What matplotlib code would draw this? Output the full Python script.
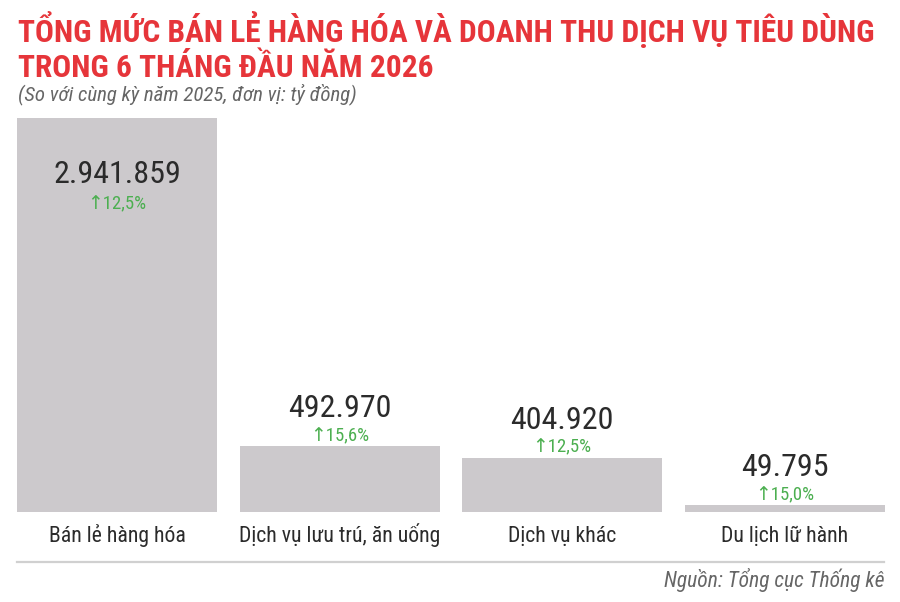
import matplotlib

matplotlib.use("Agg")
import matplotlib.pyplot as plt
from matplotlib import font_manager

# ---------- data ----------
categories = ["Bán lẻ hàng hóa", "Dịch vụ lưu trú, ăn uống", "Dịch vụ khác", "Du lịch lữ hành"]
values = [2941859, 492970, 404920, 49795]
value_labels = ["2.941.859", "492.970", "404.920", "49.795"]
growth_labels = ["12,5%", "15,6%", "12,5%", "15,0%"]

title_lines = ["TỔNG MỨC BÁN LẺ HÀNG HÓA VÀ DOANH THU DỊCH VỤ TIÊU DÙNG",
               "TRONG 6 THÁNG ĐẦU NĂM 2026"]
subtitle = "(So với cùng kỳ năm 2025, đơn vị: tỷ đồng)"
source = "Nguồn: Tổng cục Thống kê"

# ---------- style ----------
names = {f.name for f in font_manager.fontManager.ttflist}
base = "Roboto Condensed" if "Roboto Condensed" in names else "Roboto"
FAM = [base, "DejaVu Sans"]
plt.rcParams["font.family"] = FAM

RED = "#e6353a"
BAR = "#ccc9cc"
DARK = "#2b2b2b"
GREEN = "#4caf50"
GREY = "#666666"

W, H = 900, 602
fig = plt.figure(figsize=(W / 100, H / 100), dpi=100)
fig.patch.set_facecolor("white")


def fx(px):
    return px / W


def fy(py):
    return 1 - py / H


# bars axes: bottom at y=512 px, top (max value) at y=118 px
step = 222.5
left_px = 117 - step / 2
ax = fig.add_axes([fx(left_px), fy(512), fx(4 * step), (512 - 118) / H])
xs = list(range(len(values)))
ax.bar(xs, values, width=200 / step, color=BAR, edgecolor="none")
ax.set_xlim(-0.5, len(values) - 0.5)
ax.set_ylim(0, max(values))
ax.axis("off")

pt = 72 / 100  # px -> points
for i, v in enumerate(values):
    if v > 0.5 * max(values):
        dy_val, dy_pct = -65, -91
    else:
        dy_val, dy_pct = 29, 5
    ax.annotate(value_labels[i], xy=(i, v), xytext=(0, dy_val * pt),
                textcoords="offset points", ha="center", va="baseline",
                fontsize=23, color=DARK)
    ax.annotate("↑" + growth_labels[i], xy=(i, v), xytext=(0, dy_pct * pt),
                textcoords="offset points", ha="center", va="baseline",
                fontsize=13.5, color=GREEN)
    ax.annotate(categories[i], xy=(i, 0), xycoords=("data", "axes fraction"),
                xytext=(0, -30 * pt), textcoords="offset points",
                ha="center", va="baseline", fontsize=15.7, color=DARK,
                annotation_clip=False)

# title, fitted to the reference width
renderer = fig.canvas.get_renderer()
t1 = fig.text(fx(18), fy(42), title_lines[0], fontsize=26, fontweight="bold",
              color=RED, ha="left", va="baseline")
w1 = t1.get_window_extent(renderer).width
size = 26 * (858 / w1)
t1.set_fontsize(size)
fig.text(fx(18), fy(77), title_lines[1], fontsize=size, fontweight="bold",
         color=RED, ha="left", va="baseline")
fig.text(fx(18), fy(100), subtitle, fontsize=15, fontstyle="italic",
         color=GREY, ha="left", va="baseline")

# separator and source
fig.add_artist(plt.Line2D([fx(17), fx(884)], [fy(562), fy(562)],
                          color="#d0d0d0", lw=1.6))
fig.text(fx(884), fy(587), source, fontsize=15.5, fontstyle="italic",
         color=GREY, ha="right", va="baseline")

fig.savefig("out.png", dpi=100, facecolor="white")
